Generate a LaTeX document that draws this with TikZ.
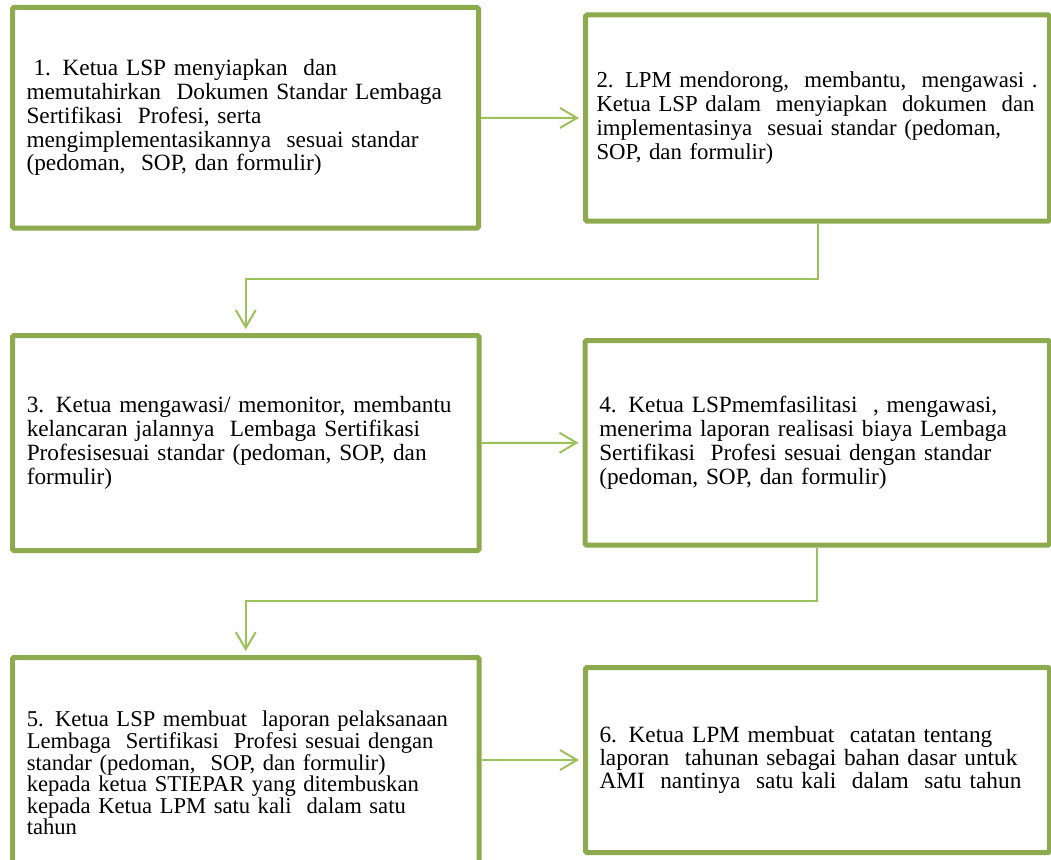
\documentclass[tikz,border=0pt]{standalone}
\usepackage{fontspec}
\setmainfont{Liberation Serif}
\usetikzlibrary{arrows.meta}
\definecolor{boxgreen}{HTML}{8EAA4F}
\definecolor{linkgreen}{HTML}{9CC15B}
\begin{document}
\begin{tikzpicture}[x=1pt,y=-1pt,
  stepbox/.style={draw=boxgreen, line width=5pt, rounded corners=1.5pt,
    inner xsep=14pt, inner ysep=0pt, align=left,
    font=\fontsize{23.3}{23.8}\selectfont},
  link/.style={draw=linkgreen, line width=2pt,
    -{Straight Barb[length=17pt,width=20pt]}, shorten >=4pt}]
\useasboundingbox (0,0) rectangle (1051,859);

\node[stepbox, minimum width=466pt, minimum height=220.5pt, text width=438pt] (b1) at (245.5,117.75)
 {\hspace*{7pt}1. Ketua LSP menyiapkan\ \ dan\\
  memutahirkan\ \ Dokumen Standar Lembaga\\
  Sertifikasi\ \ Profesi, serta\\
  mengimplementasikannya\ \ sesuai standar\\
  (pedoman,\ \ SOP, dan formulir)};

\node[stepbox, minimum width=464pt, minimum height=206pt, text width=442pt,
      inner xsep=11pt, font=\fontsize{22.8}{23.8}\selectfont] (b2) at (817.5,118)
 {\makebox[441pt][l]{2. LPM mendorong,\hfill membantu,\hfill mengawasi .}\\
  \makebox[438pt][l]{Ketua LSP dalam\hfill menyiapkan\hfill dokumen\hfill dan}\\
  implementasinya\ \ sesuai standar (pedoman,\\
  SOP, dan formulir)};

\node[stepbox, minimum width=466.5pt, minimum height=215pt, text width=438pt] (b3) at (245.75,443)
 {3. Ketua mengawasi/ memonitor, membantu\\
  kelancaran jalannya\ \ Lembaga Sertifikasi\\
  Profesisesuai standar (pedoman, SOP, dan\\
  formulir)};

\node[stepbox, minimum width=464.5pt, minimum height=204.5pt, text width=436pt] (b4) at (817.25,442.75)
 {4. Ketua LSPmemfasilitasi\ \ , mengawasi,\\
  menerima laporan realisasi biaya Lembaga\\
  Sertifikasi\ \ Profesi sesuai dengan standar\\
  (pedoman, SOP, dan formulir)};

\node[stepbox, minimum width=466.5pt, minimum height=231pt, text width=438pt,
      font=\fontsize{22.6}{20.4}\selectfont] (b5) at (245.75,773)
 {5. Ketua LSP membuat\ \ laporan pelaksanaan\\
  Lembaga\ \ Sertifikasi\ \ Profesi sesuai dengan\\
  standar (pedoman,\ \ SOP, dan formulir)\\
  kepada ketua STIEPAR yang ditembuskan\\
  kepada Ketua LPM satu kali\ \ dalam satu\\
  tahun};

\node[stepbox, minimum width=464pt, minimum height=185pt, text width=436pt,
      font=\fontsize{23.3}{22.8}\selectfont] (b6) at (817.5,760)
 {6. Ketua LPM membuat\ \ catatan tentang\\
  laporan\ \ tahunan sebagai bahan dasar untuk\\
  AMI\ \ nantinya\ \ satu kali\ \ dalam\ \ satu tahun};

\draw[link] (b1.east) -- (b2.west);
\draw[link] (b2.south) -- ++(0,55) -| (b3.north);
\draw[link] (b3.east) -- (b4.west);
\draw[link] (b4.south) -- ++(0,53.5) -| (b5.north);
\draw[link] (b6.west -| b5.east) -- (b6.west);
\end{tikzpicture}
\end{document}
